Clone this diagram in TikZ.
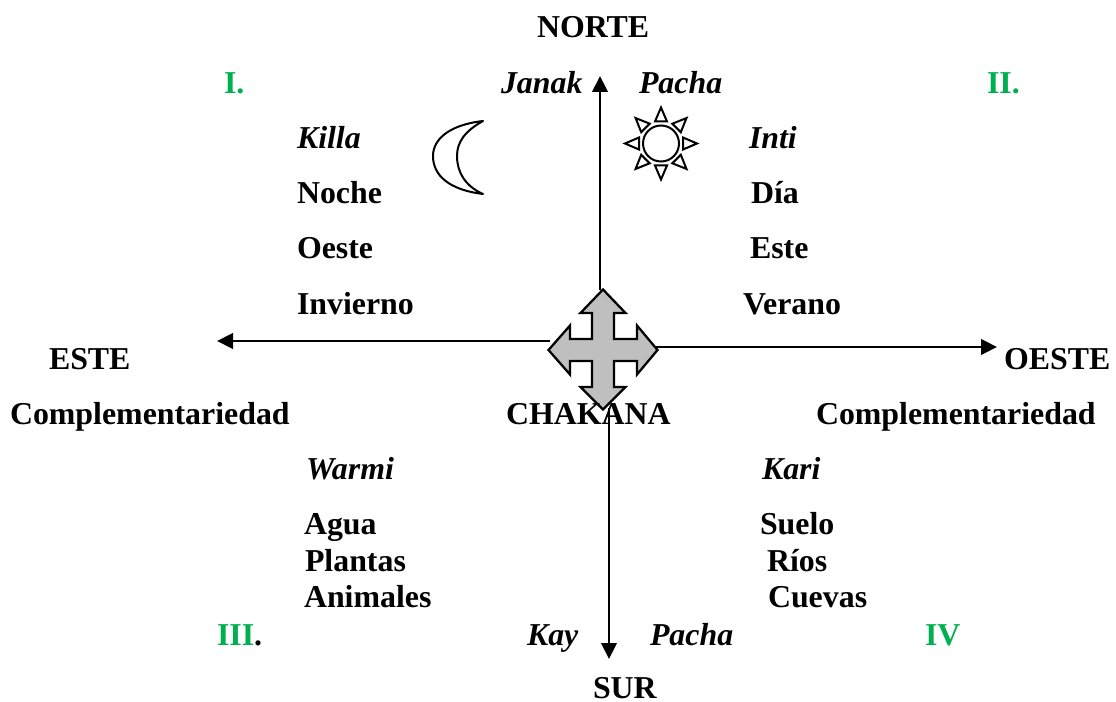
\documentclass[tikz,border=0pt]{standalone}
\usepackage{fontspec}
\setmainfont{Liberation Serif}
\usetikzlibrary{arrows.meta}
\definecolor{lbl}{HTML}{00B050}
\definecolor{crossgray}{HTML}{BFBFBF}
\tikzset{
  txt/.style={anchor=base west,inner sep=0pt,outer sep=0pt,font=\fontsize{23.9pt}{26pt}\selectfont\bfseries},
  ital/.style={txt,font=\fontsize{23.9pt}{26pt}\selectfont\bfseries\itshape},
  grn/.style={txt,text=lbl},
  axis/.style={line width=2.2pt,-{Triangle[length=12pt,width=11.5pt]}},
  shape line/.style={draw=black,line width=1.7pt,line join=miter},
  thin shape/.style={draw=black,line width=1.5pt,fill=white,line join=miter},
}
\begin{document}
\begin{tikzpicture}[x=0.75pt,y=-0.75pt]
\useasboundingbox (0,0) rectangle (1116,702);
% axis ends
\coordinate (cN) at (600,290);
\coordinate (tN) at (600,76);
\coordinate (cW) at (550,341);
\coordinate (tW) at (217,341);
\coordinate (cE) at (656,347);
\coordinate (tE) at (997,347);
\coordinate (cS) at (609,408);
\coordinate (tS) at (609,659);
\draw[axis] (cN) -- (tN);
\draw[axis] (cW) -- (tW);
\draw[axis] (cE) -- (tE);
\draw[axis] (cS) -- (tS);
% central cross
\draw[shape line,fill=crossgray]
 (603,289.5) -- (625.5,313) -- (614,313) -- (614,339) -- (637,339) -- (637,325.5) -- (657.5,350)
 -- (637,374.5) -- (637,361) -- (614,361) -- (614,387) -- (625.5,387) -- (603,409.5)
 -- (580.5,387) -- (592,387) -- (592,361) -- (570,361) -- (570,374.5) -- (548.5,350)
 -- (570,325.5) -- (570,339) -- (592,339) -- (592,313) -- (580.5,313) -- cycle;
% moon
\draw[thin shape,line join=round]
 (483,121) .. controls (448,125) and (433,140) .. (433,156)
 .. controls (433,176) and (450,190) .. (483,194)
 .. controls (465,186) and (457,172) .. (457,156)
 .. controls (457,142) and (465,131) .. (483,121) -- cycle;
% sun
\draw[thin shape] (661,143.5) circle (18);
\foreach \a in {0,45,...,315}{
  \draw[thin shape,rotate around={\a:(661,143.5)}]
    (683,137.5) -- (683,149.5) -- (697,143.5) -- cycle;
}
% text
\node[txt] (norte) at (537,38) {NORTE};
\node[grn] (i) at (224,94) {I.};
\node[ital] (janak) at (501,94) {Janak};
\node[ital] (pacha1) at (639,94) {Pacha};
\node[grn] (ii) at (987,94) {II.};
\node[ital] (killa) at (297,149) {Killa};
\node[ital] (inti) at (749,149) {Inti};
\node[txt] (noche) at (297,204) {Noche};
\node[txt] (dia) at (751,204) {Día};
\node[txt] (oeste1) at (297,258) {Oeste};
\node[txt] (este1) at (750,258) {Este};
\node[txt] (invierno) at (297,314) {Invierno};
\node[txt] (verano) at (743,314) {Verano};
\node[txt] (este) at (49,369) {ESTE};
\node[txt] (oeste) at (1004,369) {OESTE};
\node[txt] (comp1) at (10,424) {Complementariedad};
\node[txt] (chakana) at (506,424) {CHAKANA};
\node[txt] (comp2) at (816,424) {Complementariedad};
\node[ital] (warmi) at (306,479) {Warmi};
\node[ital] (kari) at (762,479) {Kari};
\node[txt] (agua) at (304,534) {Agua};
\node[txt] (suelo) at (760,534) {Suelo};
\node[txt] (plantas) at (305,571) {Plantas};
\node[txt] (rios) at (767,571) {Ríos};
\node[txt] (animales) at (304,607) {Animales};
\node[txt] (cuevas) at (768,607) {Cuevas};
\node[txt] (iii) at (217,645) {\textcolor{lbl}{III}.};
\node[ital] (kay) at (527,645) {Kay};
\node[ital] (pacha2) at (650,645) {Pacha};
\node[grn] (iv) at (925,645) {IV};
\node[txt] (sur) at (593,698.5) {SUR};
\end{tikzpicture}
\end{document}
